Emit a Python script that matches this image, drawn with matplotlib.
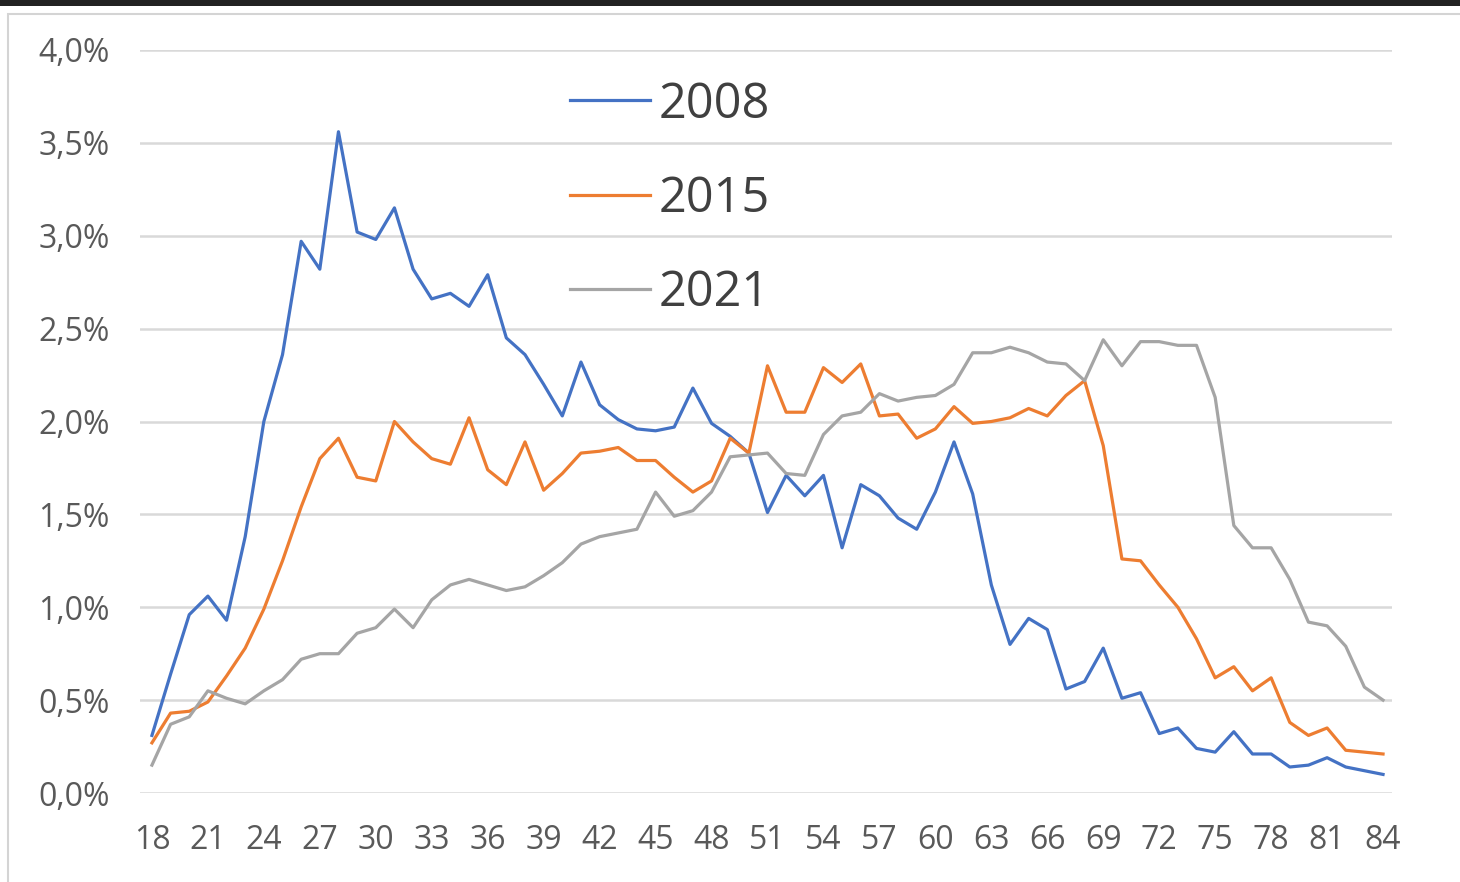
import matplotlib
matplotlib.use("Agg")
import matplotlib.pyplot as plt
from matplotlib.patches import Rectangle
from matplotlib.ticker import FuncFormatter

# Alter 18..84
ages = list(range(18, 85))

y2008 = [0.31, 0.64, 0.96, 1.06, 0.93, 1.38, 2.00, 2.36, 2.97, 2.82,
         3.56, 3.02, 2.98, 3.15, 2.82, 2.66, 2.69, 2.62, 2.79, 2.45,
         2.36, 2.20, 2.03, 2.32, 2.09, 2.01, 1.96, 1.95, 1.97, 2.18,
         1.99, 1.92, 1.83, 1.51, 1.71, 1.60, 1.71, 1.32, 1.66, 1.60,
         1.48, 1.42, 1.62, 1.89, 1.61, 1.12, 0.80, 0.94, 0.88, 0.56,
         0.60, 0.78, 0.51, 0.54, 0.32, 0.35, 0.24, 0.22, 0.33, 0.21,
         0.21, 0.14, 0.15, 0.19, 0.14, 0.12, 0.10]

y2015 = [0.27, 0.43, 0.44, 0.49, 0.63, 0.78, 0.99, 1.25, 1.54, 1.80,
         1.91, 1.70, 1.68, 2.00, 1.89, 1.80, 1.77, 2.02, 1.74, 1.66,
         1.89, 1.63, 1.72, 1.83, 1.84, 1.86, 1.79, 1.79, 1.70, 1.62,
         1.68, 1.91, 1.83, 2.30, 2.05, 2.05, 2.29, 2.21, 2.31, 2.03,
         2.04, 1.91, 1.96, 2.08, 1.99, 2.00, 2.02, 2.07, 2.03, 2.14,
         2.22, 1.87, 1.26, 1.25, 1.12, 1.00, 0.83, 0.62, 0.68, 0.55,
         0.62, 0.38, 0.31, 0.35, 0.23, 0.22, 0.21]

y2021 = [0.15, 0.37, 0.41, 0.55, 0.51, 0.48, 0.55, 0.61, 0.72, 0.75,
         0.75, 0.86, 0.89, 0.99, 0.89, 1.04, 1.12, 1.15, 1.12, 1.09,
         1.11, 1.17, 1.24, 1.34, 1.38, 1.40, 1.42, 1.62, 1.49, 1.52,
         1.62, 1.81, 1.82, 1.83, 1.72, 1.71, 1.93, 2.03, 2.05, 2.15,
         2.11, 2.13, 2.14, 2.20, 2.37, 2.37, 2.40, 2.37, 2.32, 2.31,
         2.22, 2.44, 2.30, 2.43, 2.43, 2.41, 2.41, 2.13, 1.44, 1.32,
         1.32, 1.15, 0.92, 0.90, 0.79, 0.57, 0.50]

series = [("2008", y2008, "#4472C4"),
          ("2015", y2015, "#ED7D31"),
          ("2021", y2021, "#A5A5A5")]

plt.rcParams["font.family"] = ["Open Sans", "DejaVu Sans"]

fig = plt.figure(figsize=(14.6, 8.82), dpi=100)

# dunkler Balken oben und heller Rahmen links
fig.patches.append(Rectangle((0, 1 - 6 / 882), 1, 6 / 882, transform=fig.transFigure,
                             facecolor="#222222", edgecolor="none", zorder=0))
fig.patches.append(Rectangle((8 / 1460, -0.01), 1.2, 1 - 14 / 882 + 0.01,
                             transform=fig.transFigure, facecolor="none",
                             edgecolor="#d4d4d4", linewidth=1.5, zorder=0))

ax = fig.add_axes([140 / 1460, 89 / 882, 1252 / 1460, 743 / 882])

for label, vals, col in series:
    ax.plot(ages, vals, color=col, linewidth=2.3, label=label, zorder=3)

ax.set_xlim(17.36, 84.48)
ax.set_ylim(0, 4.0)
ax.set_xticks(range(18, 85, 3))
ax.set_yticks([i * 0.5 for i in range(9)])
ax.yaxis.set_major_formatter(FuncFormatter(lambda v, p: f"{v:.1f}%".replace(".", ",")))

ax.grid(axis="y", color="#d9d9d9", linewidth=1.8, zorder=0)
ax.set_axisbelow(True)
for s in ax.spines.values():
    s.set_visible(False)
ax.tick_params(axis="both", length=0, labelsize=23, labelcolor="#595959")
ax.tick_params(axis="y", pad=22)
ax.tick_params(axis="x", pad=22)

ax.legend(loc="upper left", bbox_to_anchor=(570 / 1460, 1 - 80 / 882),
          bbox_transform=fig.transFigure, frameon=False, fontsize=35,
          handlelength=1.65, handletextpad=0.18, labelspacing=0.92,
          borderpad=0, borderaxespad=0, labelcolor="#404040")

fig.savefig("out.png", dpi=100, facecolor="white")
